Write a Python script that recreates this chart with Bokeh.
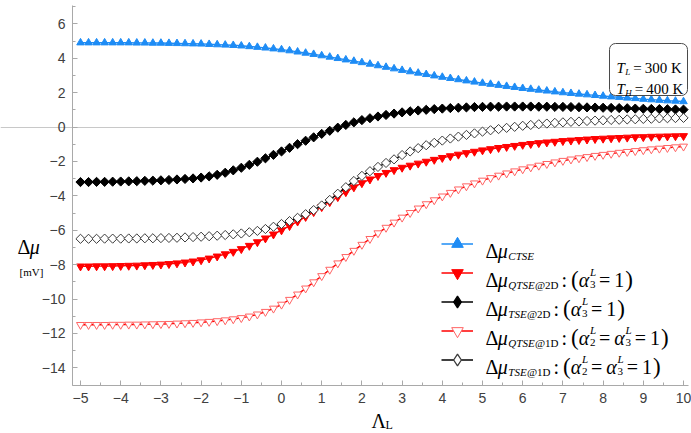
import numpy as np
from bokeh.plotting import figure
from bokeh.models import (Range1d, Label, BoxAnnotation, Legend, LegendItem,
                          SingleIntervalTicker, FixedTicker)
from bokeh.core.properties import value
from bokeh.embed import file_html
from bokeh.resources import INLINE

# ---------------- data ----------------
lam = [round(-5 + 0.2 * i, 1) for i in range(76)]

d_ctse = [4.90, 4.90, 4.90, 4.90, 4.90, 4.90, 4.90, 4.89, 4.89, 4.88,
          4.88, 4.87, 4.86, 4.85, 4.84, 4.83, 4.81, 4.79, 4.77, 4.75,
          4.72, 4.68, 4.64, 4.60, 4.55, 4.50, 4.44, 4.37, 4.30, 4.23,
          4.15, 4.07, 3.99, 3.91, 3.83, 3.75, 3.66, 3.57, 3.48, 3.39,
          3.30, 3.22, 3.14, 3.06, 2.98, 2.90, 2.83, 2.76, 2.69, 2.62,
          2.55, 2.49, 2.43, 2.37, 2.31, 2.25, 2.20, 2.15, 2.10, 2.05,
          2.00, 1.96, 1.92, 1.88, 1.84, 1.80, 1.76, 1.73, 1.69, 1.66,
          1.62, 1.59, 1.56, 1.53, 1.51, 1.48]

d_qtse2d = [-8.10, -8.10, -8.09, -8.09, -8.08, -8.07, -8.06, -8.05, -8.03, -8.01,
            -7.99, -7.96, -7.92, -7.87, -7.81, -7.74, -7.64, -7.52, -7.39, -7.25,
            -7.09, -6.90, -6.69, -6.47, -6.24, -6.00, -5.75, -5.49, -5.22, -4.94,
            -4.65, -4.36, -4.07, -3.78, -3.50, -3.26, -3.04, -2.84, -2.66, -2.50,
            -2.36, -2.24, -2.12, -2.01, -1.90, -1.79, -1.69, -1.60, -1.51, -1.43,
            -1.35, -1.28, -1.21, -1.15, -1.09, -1.03, -0.98, -0.93, -0.89, -0.85,
            -0.81, -0.78, -0.75, -0.72, -0.69, -0.67, -0.65, -0.63, -0.61, -0.59,
            -0.58, -0.56, -0.55, -0.54, -0.53, -0.52]

d_tse2d = [-3.20, -3.20, -3.19, -3.19, -3.18, -3.17, -3.16, -3.15, -3.13, -3.12,
           -3.10, -3.08, -3.05, -3.02, -2.99, -2.94, -2.87, -2.78, -2.66, -2.52,
           -2.37, -2.20, -2.02, -1.82, -1.62, -1.42, -1.21, -1.00, -0.80, -0.60,
           -0.40, -0.22, -0.04, 0.12, 0.27, 0.40, 0.51, 0.61, 0.70, 0.78,
           0.85, 0.91, 0.96, 1.00, 1.04, 1.07, 1.10, 1.12, 1.14, 1.16,
           1.17, 1.18, 1.18, 1.19, 1.19, 1.19, 1.19, 1.18, 1.18, 1.17,
           1.17, 1.16, 1.15, 1.14, 1.13, 1.12, 1.11, 1.10, 1.09, 1.07,
           1.06, 1.05, 1.04, 1.03, 1.02, 1.01]

d_qtse1d = [-11.50, -11.50, -11.50, -11.50, -11.49, -11.49, -11.48, -11.48, -11.47, -11.46,
            -11.45, -11.44, -11.42, -11.40, -11.38, -11.35, -11.32, -11.28, -11.23, -11.17,
            -11.10, -11.01, -10.89, -10.74, -10.55, -10.32, -10.04, -9.73, -9.38, -9.02,
            -8.66, -8.29, -7.92, -7.55, -7.19, -6.84, -6.50, -6.17, -5.85, -5.55,
            -5.26, -4.99, -4.73, -4.48, -4.25, -4.03, -3.82, -3.62, -3.44, -3.27,
            -3.11, -2.96, -2.82, -2.69, -2.57, -2.45, -2.34, -2.24, -2.14, -2.05,
            -1.96, -1.88, -1.81, -1.74, -1.67, -1.61, -1.55, -1.49, -1.44, -1.39,
            -1.34, -1.29, -1.25, -1.21, -1.17, -1.13]

d_tse1d = [-6.50, -6.50, -6.50, -6.49, -6.49, -6.49, -6.48, -6.48, -6.47, -6.47,
           -6.46, -6.45, -6.44, -6.42, -6.40, -6.38, -6.35, -6.32, -6.28, -6.24,
           -6.19, -6.12, -6.04, -5.93, -5.80, -5.64, -5.47, -5.28, -5.07, -4.83,
           -4.56, -4.24, -3.88, -3.50, -3.14, -2.84, -2.57, -2.32, -2.09, -1.88,
           -1.63, -1.42, -1.23, -1.06, -0.92, -0.79, -0.67, -0.56, -0.46, -0.37,
           -0.27, -0.19, -0.12, -0.05, 0.01, 0.07, 0.12, 0.16, 0.20, 0.24,
           0.27, 0.30, 0.32, 0.35, 0.37, 0.39, 0.41, 0.42, 0.44, 0.45,
           0.47, 0.48, 0.50, 0.51, 0.52, 0.53]

x_axis_span = (-5.2, 10.12)
y_axis_span = (-15.03, 7.06)

# ---------------- layout (page pixels <-> data) ----------------
W, H = 691, 433
PX_X0, SX = 80.0, 40.2      # page x of lambda = -5, px per unit
PY_0, SY = 126.5, 17.2      # page y of value 0, px per unit


def X(px):
    return -5 + (px - PX_X0) / SX


def Y(py):
    return (PY_0 - py) / SY


p = figure(width=W, height=H, output_backend="svg", toolbar_location=None,
           x_range=Range1d(X(0), X(W)), y_range=Range1d(Y(H), Y(0)),
           min_border=0, min_border_left=0, min_border_right=0,
           min_border_top=0, min_border_bottom=0)
p.outline_line_color = None
p.background_fill_color = "white"
p.border_fill_color = "white"

AX = "#a9a9a9"
xa, ya = p.xaxis[0], p.yaxis[0]
xa.fixed_location = y_axis_span[0]
ya.fixed_location = x_axis_span[0]
xa.bounds = x_axis_span
ya.bounds = y_axis_span
for ax in (xa, ya):
    ax.axis_line_color = AX
    ax.major_tick_line_color = AX
    ax.minor_tick_line_color = AX
    ax.major_tick_in = 5
    ax.major_tick_out = 0
    ax.minor_tick_in = 3
    ax.minor_tick_out = 0
    ax.major_label_text_font = "Liberation Sans"
    ax.major_label_text_font_size = "14px"
    ax.major_label_text_color = "#404040"
    ax.major_label_standoff = 7
xa.ticker = SingleIntervalTicker(interval=1, num_minor_ticks=2)
ya.ticker = SingleIntervalTicker(interval=2, num_minor_ticks=2)

p.xgrid.visible = False
p.ygrid.ticker = FixedTicker(ticks=[0])
p.ygrid.bounds = x_axis_span
p.ygrid.grid_line_color = "#c8c8c8"
p.ygrid.grid_line_width = 1

BLUE = "#1e8cf5"
RED = "#ff0000"

# (values, line colour, marker, legend marker, marker line, marker fill, size, angle)
series = [
    (d_ctse, BLUE, "triangle", "triangle", BLUE, BLUE, 7.5, 0.0),
    (d_qtse2d, RED, "inverted_triangle", "inverted_triangle", RED, RED, 8, 0.0),
    (d_tse2d, "black", "square", "diamond", "black", "black", 6.5, np.pi / 4),
    (d_qtse1d, RED, "inverted_triangle", "inverted_triangle", "#ff6464", "white", 8, 0.0),
    (d_tse1d, "black", "square", "diamond", "#3a3a3a", "white", 6.5, np.pi / 4),
]
items = []
for vals, lc, mk, lmk, mlc, mfc, sz, ang in series:
    r1 = p.line(lam, vals, line_color=lc, line_width=1.4)
    r2 = p.scatter(lam, vals, marker=mk, size=sz, angle=ang, line_color=mlc,
                   fill_color=mfc, line_width=1)
    if lmk == mk:
        rl = r2
    else:
        # same series, drawn only as the legend's sample
        rl = p.scatter(lam, vals, marker=lmk, size=sz, line_color=mlc,
                       fill_color=mfc, line_width=1.3, visible=False)
    items.append(LegendItem(label=value(" "), renderers=[r1, rl]))

GH = 29
row1 = 243
rows = [row1 + k * GH for k in range(5)]
leg = Legend(items=items, location=(441, H - (rows[-1] + GH / 2)),
             glyph_width=32, glyph_height=GH, label_width=0, label_height=GH,
             label_standoff=0, spacing=0, padding=0, margin=0,
             border_line_color=None, background_fill_alpha=0,
             label_text_font_size="1px", click_policy="none")
p.add_layout(leg)

# ---------- text helpers ----------
EM = {
    "(": 0.333, ")": 0.333, "=": 0.564, ":": 0.278, "@": 0.921,
    "D": 0.722, "K": 0.722, "Δ": 0.612, "Λ": 0.70, "T": 0.58, "S": 0.5, "E": 0.611,
    "Q": 0.722, "C": 0.667, "L": 0.56, "H": 0.722, "μ": 0.53, "α": 0.56,
    "[": 0.333, "]": 0.333, "m": 0.778, "V": 0.722, " ": 0.25,
}


def width(txt, size):
    return sum(EM.get(c, 0.5) for c in txt) * size


def run(x0_px, base_py, pieces, color="black", font="Liberation Serif"):
    """pieces: (text, size, style, shift_up_px, advance); advance None -> text width,
    a number -> that many px."""
    x = x0_px
    for txt, size, style, shift, adv in pieces:
        if txt:
            p.add_layout(Label(x=X(x), y=Y(base_py - shift), text=txt,
                               text_font=font, text_font_size=f"{size}px",
                               text_font_style=style, text_color=color,
                               text_baseline="alphabetic", text_align="left"))
        x += width(txt, size) if adv is None else adv
    return x


BS = 20   # base size of legend text
SS = 11   # sub/superscript size


def gap(px):
    return ("", 0, "normal", 0, px)


def lead(sub_it, sub_rm):
    pcs = [("Δ", BS, "normal", 0, None), ("μ", BS, "italic", 0, None),
           (sub_it, SS, "italic", -5, None)]
    if sub_rm:
        pcs.append((sub_rm, SS, "normal", -5, None))
    return pcs


def alpha(idx):
    return [("α", BS, "italic", 0, None), (idx, SS, "normal", -5, 0),
            ("L", SS, "italic", 8, None)]


legend_rows = [("CTSE", "", None), ("QTSE", "@2D", ["3"]), ("TSE", "@2D", ["3"]),
               ("QTSE", "@1D", ["2", "3"]), ("TSE", "@1D", ["2", "3"])]
for row, (si, sr, al) in zip(rows, legend_rows):
    pcs = lead(si, sr)
    if al:
        pcs += [gap(3), (":", BS, "normal", 0, None), gap(4),
                ("(", BS + 3, "normal", 0, None)]
        for idx in al:
            pcs += alpha(idx)
            pcs += [gap(3), ("=", BS, "normal", 0, None), gap(4)]
        pcs += [("1", BS, "normal", 0, None), gap(1), (")", BS + 3, "normal", 0, None)]
    run(485, row + 7, pcs)

# box with temperatures
p.add_layout(BoxAnnotation(left=X(609), right=X(687), top=Y(43), bottom=Y(95),
                           fill_color="white", fill_alpha=1, line_color="#4a4a4a",
                           line_alpha=1, line_width=1, border_radius=6))
for base, sub, val in [(67, "L", "300 K"), (88, "H", "400 K")]:
    run(616, base, [("T", 15, "italic", 0, None), (sub, 9, "italic", -4, None), gap(3),
                    ("=", 15, "normal", 0, None), gap(3), (val, 15, "normal", 0, None)])

# axis titles
run(17, 246, [("Δ", 20, "normal", 0, None), ("μ", 20, "italic", 0, None)])
run(19, 271, [("[mV]", 11, "normal", 0, None)])
run(371, 420, [("Λ", 20, "normal", 0, None), ("L", 12, "normal", -4, None)])

open("out.html", "w").write(file_html(p, INLINE))
